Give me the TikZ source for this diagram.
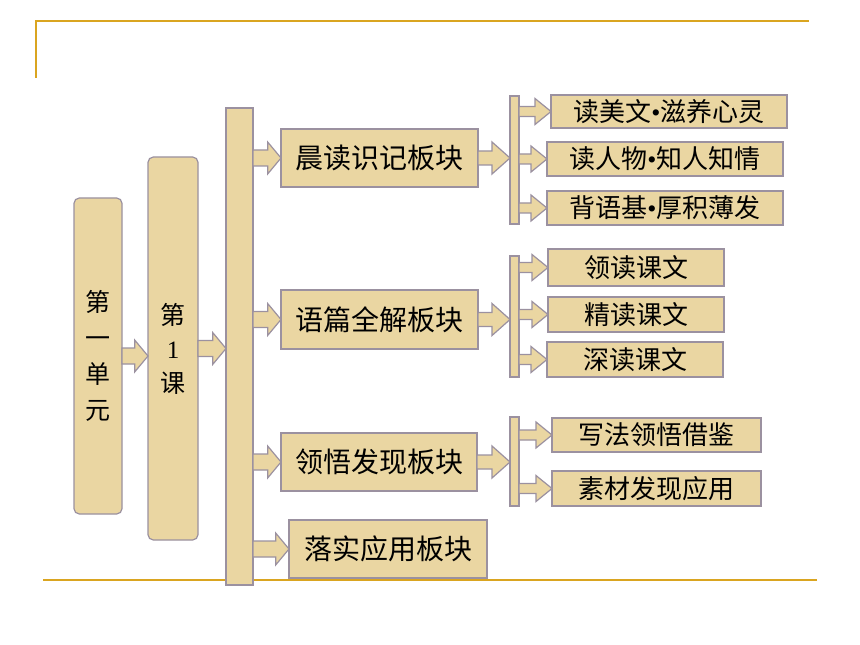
\documentclass[tikz,border=0pt]{standalone}
\usepackage{fontspec}
\setmainfont{Noto Sans CJK SC}
\newfontfamily\latinfont{Liberation Serif}
\newcommand{\dotsep}{{\latinfont •}}
\usetikzlibrary{calc}

\begin{document}
\begin{tikzpicture}[x=0.75pt,y=-0.75pt,
  paper/.style={fill=paperColor,draw=edgeColor,line width=0.9pt,inner sep=0pt,outer sep=0pt},
  tallbox/.style={paper,rounded corners=4pt,align=center},
  block/.style={paper,font=\fontsize{21pt}{25pt}\selectfont},
  leaf/.style={paper,font=\fontsize{19.5pt}{23pt}\selectfont},
  fat/.style n args={3}{paper,to path={let \p1=(\tikztostart),\p2=(\tikztotarget) in
    (\x1,\y1+#1) -- (\x2-#3,\y1+#1) -- (\x2-#3,\y1+#2) -- (\x2,\y1) --
    (\x2-#3,\y1-#2) -- (\x2-#3,\y1-#1) -- (\x1,\y1-#1) -- cycle}},
  bigarrow/.style={fat={6pt}{12pt}{10pt}},
  midarrow/.style={fat={5.25pt}{12pt}{13.5pt}},
  smallarrow/.style={fat={3.75pt}{9.75pt}{12pt}},
  rule/.style={draw=lineColor,line width=1.5pt}]
\definecolor[named]{paperColor}{RGB}{234,214,162}
\definecolor[named]{edgeColor}{RGB}{155,145,160}
\definecolor[named]{lineColor}{RGB}{218,165,32}
\path[use as bounding box,fill=white] (0,0) rectangle (860,645);

\draw[rule] (35.5,78) -- (35.5,21) -- (809,21);
\draw[rule] (43,580) -- (817,580);

\node[tallbox,minimum width=36pt,minimum height=237pt,font=\fontsize{18.75pt}{27pt}\selectfont] (unit) at (98,356) {第\\一\\单\\元};
\node[tallbox,minimum width=37.5pt,minimum height=287.25pt,font=\fontsize{18.75pt}{25.5pt}\selectfont] (lesson) at (173,348.5) {第\\{\latinfont 1}\\课};
\node[paper,minimum width=20.25pt,minimum height=357.75pt] (bar) at (239.5,346.5) {};

\node[block,minimum width=147.75pt,minimum height=43.5pt] (morning) at (379.5,158) {晨读识记板块};
\node[block,minimum width=147.75pt,minimum height=44.25pt] (reading) at (379.5,319.5) {语篇全解板块};
\node[block,minimum width=147pt,minimum height=43.5pt] (insight) at (379,462) {领悟发现板块};
\node[block,minimum width=148.5pt,minimum height=43.5pt] (practice) at (388,549) {落实应用板块};

\node[paper,minimum width=6.75pt,minimum height=96pt] (fork1) at (514.5,160) {};
\node[paper,minimum width=6.75pt,minimum height=90.75pt] (fork2) at (514.5,316.5) {};
\node[paper,minimum width=6.75pt,minimum height=66.75pt] (fork3) at (514.5,461.5) {};

\node[leaf,minimum width=177pt,minimum height=24.75pt] (beauty) at (669,111.5) {读美文\dotsep 滋养心灵};
\node[leaf,minimum width=177pt,minimum height=25.5pt] (people) at (665,159) {读人物\dotsep 知人知情};
\node[leaf,minimum width=177pt,minimum height=25.5pt] (basics) at (665,208) {背语基\dotsep 厚积薄发};

\node[leaf,minimum width=132pt,minimum height=27.75pt] (lead) at (636,267.5) {领读课文};
\node[leaf,minimum width=132pt,minimum height=26.25pt] (fine) at (636,314.5) {精读课文};
\node[leaf,minimum width=132pt,minimum height=26.25pt] (deep) at (635,359.5) {深读课文};

\node[leaf,minimum width=156.75pt,minimum height=25.5pt] (style) at (656.5,435) {写法领悟借鉴};
\node[leaf,minimum width=156.75pt,minimum height=26.25pt] (material) at (656.5,488.5) {素材发现应用};

\path[bigarrow] (unit.east) to (lesson.west);
\path[bigarrow] (lesson.east) to (bar.west);
\foreach \b in {morning,reading,insight,practice}
  \path[bigarrow] (bar.east |- \b.west) to (\b.west);

\path[midarrow] (morning.east) to (fork1.west);
\path[midarrow] (reading.east) to (fork2.west);
\path[midarrow] (insight.east) to (fork3.west);

\foreach \l in {beauty,people,basics}
  \path[smallarrow] (fork1.east |- \l.west) to (\l.west);
\foreach \l in {lead,fine,deep}
  \path[smallarrow] (fork2.east |- \l.west) to (\l.west);
\foreach \l in {style,material}
  \path[smallarrow] (fork3.east |- \l.west) to (\l.west);
\end{tikzpicture}
\end{document}
